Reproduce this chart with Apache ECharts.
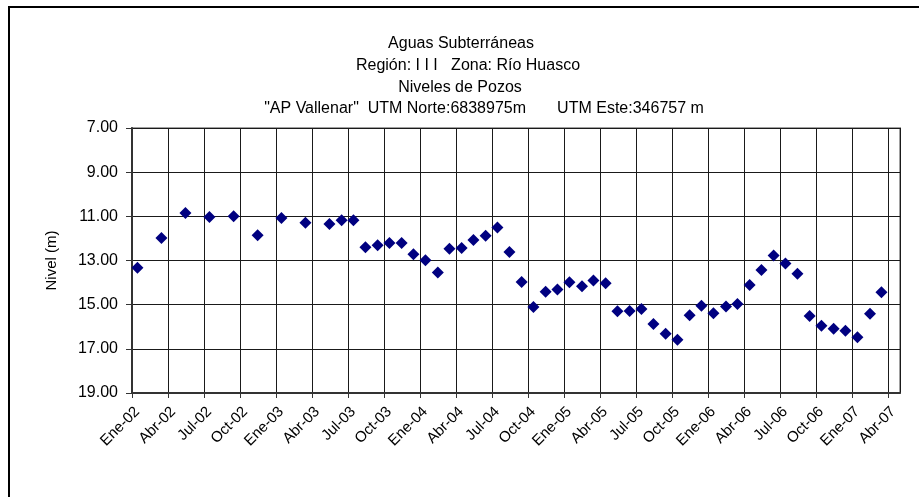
<!DOCTYPE html>
<html>
<head>
<meta charset="utf-8">
<title>Niveles de Pozos - AP Vallenar</title>
<script src="https://cdn.jsdelivr.net/npm/echarts@6/dist/echarts.min.js"></script>
<style>
  html, body { margin: 0; padding: 0; background: #ffffff; }
  #chart { width: 919px; height: 497px; }
</style>
</head>
<body>
<div id="chart"></div>
<script>
// Measurement dates (mid-month readings)
const measureDates = [
  '2002-01-15', '2002-03-15', '2002-05-15', '2002-07-15', '2002-09-15', '2002-11-15',
  '2003-01-15', '2003-03-15', '2003-05-15', '2003-06-15', '2003-07-15', '2003-08-15',
  '2003-09-15', '2003-10-15', '2003-11-15', '2003-12-15', '2004-01-15', '2004-02-15',
  '2004-03-15', '2004-04-15', '2004-05-15', '2004-06-15', '2004-07-15', '2004-08-15',
  '2004-09-15', '2004-10-15', '2004-11-15', '2004-12-15', '2005-01-15', '2005-02-15',
  '2005-03-15', '2005-04-15', '2005-05-15', '2005-06-15', '2005-07-15', '2005-08-15',
  '2005-09-15', '2005-10-15', '2005-11-15', '2005-12-15', '2006-01-15', '2006-02-15',
  '2006-03-15', '2006-04-15', '2006-05-15', '2006-06-15', '2006-07-15', '2006-08-15',
  '2006-09-15', '2006-10-15', '2006-11-15', '2006-12-15', '2007-01-15', '2007-02-15',
  '2007-03-15'
];

// Water level below surface (m)
const waterLevel = [
  13.33, 11.98, 10.85, 11.03, 11.00, 11.86,
  11.08, 11.29, 11.35, 11.18, 11.18, 12.40,
  12.31, 12.21, 12.21, 12.72, 12.99, 13.54,
  12.47, 12.43, 12.07, 11.88, 11.50, 12.62,
  13.97, 15.11, 14.41, 14.31, 13.99, 14.17,
  13.91, 14.03, 15.30, 15.29, 15.20, 15.88,
  16.32, 16.59, 15.48, 15.05, 15.39, 15.08,
  14.97, 14.11, 13.43, 12.77, 13.14, 13.60,
  15.51, 15.95, 16.09, 16.18, 16.47, 15.41,
  14.44
];

// Axis labelling
const monthNames = ['Ene', 'Feb', 'Mar', 'Abr', 'May', 'Jun', 'Jul', 'Ago', 'Sep', 'Oct', 'Nov', 'Dic'];
const startYear = 2002;
const monthSpan = 64;      // Ene-02 .. May-07
const tickStep = 3;        // quarterly ticks
const levelTicks = [7, 9, 11, 13, 15, 17, 19];

const titleLines = [
  'Aguas Subterráneas',
  'Región: I I I   Zona: Río Huasco',
  'Niveles de Pozos',
  '"AP Vallenar"  UTM Norte:6838975m       UTM Este:346757 m'
];
const yAxisTitle = 'Nivel (m)';

// Convert a date string to a fractional month count from Jan 2002
function monthIndex(s) {
  const [y, m, d] = s.split('-').map(Number);
  const daysInMonth = new Date(y, m, 0).getDate();
  return (y - startYear) * 12 + (m - 1) + (d - 1) / daysInMonth;
}

function monthLabel(v) {
  const idx = Math.round(v);
  if (Math.abs(v - idx) > 1e-6 || idx % tickStep !== 0 || idx >= monthSpan) return '';
  const y = startYear + Math.floor(idx / 12);
  return monthNames[idx % 12] + '-' + String(y % 100).padStart(2, '0');
}

const points = measureDates.map((d, i) => [monthIndex(d), waterLevel[i]]);

const FONT = '"Liberation Sans", Arial, sans-serif';

// Each title line is centred on its own anchor
const titleCenters = [456, 463, 455, 479];
const titleTop = 29;
const titleStep = 21.6;

const chart = echarts.init(document.getElementById('chart'), null, { renderer: 'canvas' });

chart.setOption({
  animation: false,
  backgroundColor: '#ffffff',
  title: titleLines.map((line, i) => ({
    text: line,
    left: titleCenters[i],
    top: titleTop + i * titleStep,
    textAlign: 'center',
    textStyle: {
      fontFamily: FONT,
      fontSize: 16,
      fontWeight: 'normal',
      color: '#000000',
      lineHeight: 20
    }
  })),
  graphic: [{
    type: 'rect',
    shape: { x: 9, y: 7, width: 1000, height: 1000 },
    style: { fill: 'none', stroke: '#000000', lineWidth: 2 },
    silent: true,
    z: 100
  }],
  grid: {
    left: 132,
    top: 128,
    right: 19,
    bottom: 104,
    show: true,
    borderColor: '#a0a0a0',
    borderWidth: 2,
    backgroundColor: 'transparent'
  },
  xAxis: {
    type: 'value',
    min: 0,
    max: monthSpan,
    interval: tickStep,
    axisLine: { show: true, onZero: false, lineStyle: { color: '#333333', width: 2 } },
    axisTick: { show: true, inside: false, length: 5, lineStyle: { color: '#333333' } },
    splitLine: { show: true, lineStyle: { color: '#1a1a1a', width: 1 } },
    axisLabel: {
      rotate: 45,
      margin: 11,
      verticalAlign: 'top',
      fontFamily: FONT,
      fontSize: 15,
      color: '#000000',
      showMaxLabel: false,
      formatter: monthLabel
    }
  },
  yAxis: {
    type: 'value',
    inverse: true,
    min: levelTicks[0],
    max: levelTicks[levelTicks.length - 1],
    interval: levelTicks[1] - levelTicks[0],
    name: yAxisTitle,
    nameLocation: 'middle',
    nameGap: 73,
    nameRotate: 90,
    nameTextStyle: { fontFamily: FONT, fontSize: 15, color: '#000000' },
    axisLine: { show: true, onZero: false, lineStyle: { color: '#333333', width: 2 } },
    axisTick: { show: true, inside: false, length: 6, lineStyle: { color: '#333333' } },
    splitLine: { show: true, lineStyle: { color: '#1a1a1a', width: 1 } },
    axisLabel: {
      margin: 14,
      fontFamily: FONT,
      fontSize: 16,
      color: '#000000',
      formatter: v => v.toFixed(2)
    }
  },
  series: [{
    type: 'scatter',
    data: points,
    symbol: 'diamond',
    symbolSize: [12, 12],
    itemStyle: { color: '#000080', opacity: 1 },
    z: 5
  }]
});
</script>
</body>
</html>
